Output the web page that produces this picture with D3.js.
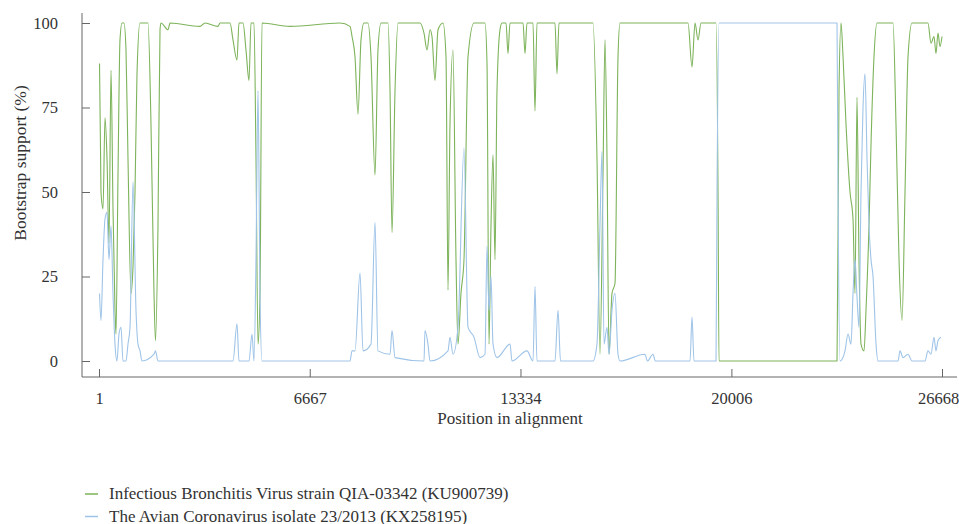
<!DOCTYPE html>
<html>
<head>
<meta charset="utf-8">
<script src="https://cdn.jsdelivr.net/npm/d3@7"></script>
</head>
<body style="margin:0;background:#fff">
<div id="chart"></div>
<script>
// Bootscan values (position in alignment, bootstrap %)
const ibvPos = [17, 64, 128, 191, 254, 317, 381, 444, 507, 539, 602, 665, 729, 792, 855, 918, 1013, 1077, 1140, 1203, 1298, 1551, 1646, 1741, 1788, 1867, 1931, 1962, 2184, 2247, 3196, 3354, 3765, 3829, 4145, 4240, 4366, 4430, 4556, 4651, 4746, 4809, 4904, 4967, 5031, 5094, 5157, 6043, 7625, 7941, 8005, 8099, 8194, 8289, 8384, 8510, 8605, 8732, 8826, 8922, 9144, 9207, 9270, 9365, 9460, 10155, 10282, 10377, 10472, 10535, 10630, 10725, 10883, 10978, 11041, 11104, 11199, 11294, 11357, 11452, 11547, 11674, 11864, 12211, 12275, 12338, 12401, 12465, 12528, 12591, 12686, 12750, 12876, 12939, 13002, 13414, 13477, 13540, 13730, 13793, 13856, 14425, 14489, 14552, 15533, 15628, 15754, 15849, 15944, 16007, 16071, 16134, 16229, 16324, 16419, 16482, 18633, 18760, 18855, 18950, 19045, 19519, 19583, 19614, 23347, 23410, 23474, 23537, 23632, 23758, 23853, 23916, 23979, 24042, 24106, 24201, 24264, 24359, 24422, 24517, 24612, 25119, 25213, 25308, 25403, 25498, 25593, 25719, 26225, 26320, 26415, 26478, 26541, 26605, 26668];
const ibvVal = [88, 50, 45, 72, 60, 35, 86, 45, 15, 8, 55, 95, 100, 100, 92, 60, 20, 28, 50, 85, 100, 100, 70, 20, 6, 40, 98, 100, 98, 100, 99, 100, 99, 100, 100, 95, 89, 100, 100, 92, 83, 100, 100, 60, 5, 20, 100, 99, 100, 99, 96, 90, 73, 95, 100, 100, 90, 55, 92, 100, 100, 80, 38, 80, 100, 100, 97, 92, 98, 96, 83, 98, 100, 90, 21, 70, 92, 30, 5, 20, 30, 90, 100, 100, 88, 5, 40, 61, 30, 80, 98, 100, 100, 91, 100, 100, 91, 100, 100, 74, 100, 100, 85, 100, 100, 100, 60, 2, 55, 95, 60, 2, 20, 23, 90, 100, 100, 87, 100, 95, 100, 100, 50, 0, 0, 80, 100, 90, 70, 50, 42, 20, 78, 30, 5, 3, 15, 40, 64, 90, 100, 100, 70, 30, 12, 50, 90, 100, 100, 94, 96, 91, 97, 93, 96];

const acovPos = [17, 64, 128, 191, 254, 317, 381, 444, 507, 570, 634, 697, 760, 855, 918, 982, 1077, 1171, 1235, 1298, 1361, 1741, 1788, 1867, 4240, 4366, 4430, 4746, 4841, 4904, 4967, 5031, 5094, 5157, 7941, 8005, 8099, 8258, 8352, 8605, 8732, 8826, 9207, 9270, 9365, 10282, 10313, 10408, 10472, 11041, 11104, 11199, 11357, 11547, 11674, 11864, 12053, 12211, 12275, 12338, 12401, 12465, 12591, 13002, 13065, 13540, 13730, 13793, 13856, 14425, 14521, 14600, 15628, 15754, 15849, 15912, 15976, 16071, 16134, 16229, 16324, 16419, 16482, 17273, 17350, 17526, 17600, 18697, 18760, 18823, 19519, 19551, 19614, 23347, 23379, 23442, 23600, 23695, 23790, 23853, 23916, 23979, 24042, 24106, 24169, 24232, 24296, 24359, 24422, 24486, 24581, 24644, 25277, 25340, 25435, 25593, 25719, 26130, 26225, 26320, 26415, 26478, 26541, 26636];
const acovVal = [20, 12, 30, 42, 44, 30, 40, 20, 5, 0, 8, 10, 0, 0, 5, 10, 53, 15, 5, 3, 0, 2, 3, 0, 0, 11, 0, 0, 8, 0, 30, 80, 20, 0, 0, 3, 3, 26, 3, 5, 41, 3, 2, 9, 1, 0, 9, 5, 0, 3, 7, 2, 10, 63, 10, 7, 1, 2, 34, 15, 25, 5, 1, 5, 0, 3, 0, 22, 0, 0, 15, 0, 0, 5, 40, 62, 5, 10, 2, 15, 20, 2, 0, 2, 0, 2, 0, 0, 13, 0, 0, 50, 100, 100, 50, 0, 3, 8, 5, 20, 30, 19, 10, 50, 75, 85, 60, 40, 30, 25, 5, 0, 0, 3, 1, 2, 0, 0, 3, 2, 7, 3, 6, 7];

const xTicks = [1, 6667, 13334, 20006, 26668];
const yTicks = [0, 25, 50, 75, 100];

const series = [
  { name: "Infectious Bronchitis Virus strain QIA-03342 (KU900739)", pos: ibvPos, val: ibvVal, color: "#7db35a" },
  { name: "The Avian Coronavirus isolate 23/2013 (KX258195)", pos: acovPos, val: acovVal, color: "#9fc4e8" },
];

const serif = "\"Liberation Serif\"";
const width = 959, height = 524;
const svg = d3.select("#chart").append("svg")
  .attr("width", width).attr("height", height);

const x = d3.scaleLinear().domain([1, 26668]).range([99, 942]);
const y = d3.scaleLinear().domain([0, 100]).range([361, 23]);

const axisColor = "#666";

// frame lines
svg.append("line").attr("x1", 82).attr("x2", 82).attr("y1", 13).attr("y2", 377)
  .attr("stroke", axisColor);
svg.append("line").attr("x1", 82).attr("x2", 957).attr("y1", 377).attr("y2", 377)
  .attr("stroke", axisColor);

const gy = svg.append("g").attr("transform", "translate(82,0)")
  .call(d3.axisLeft(y).tickValues(yTicks).tickSize(-8).tickPadding(24));
const gx = svg.append("g").attr("transform", "translate(0,377)")
  .call(d3.axisBottom(x).tickValues(xTicks).tickFormat(d3.format("d")).tickSize(-8).tickPadding(15));

[gx, gy].forEach((g) => {
  g.select(".domain").remove();
  g.selectAll("line").attr("stroke", axisColor);
  g.selectAll("text").style("font-size", "16.5px");
});
// last x label sits against the right edge in the original
gx.selectAll("text").filter((d) => d === 26668).attr("dx", -4);

svg.append("text").attr("x", 510).attr("y", 424).attr("text-anchor", "middle")
  .style("font-size", "17px").text("Position in alignment");
svg.append("text").attr("transform", "translate(26,163) rotate(-90)")
  .attr("text-anchor", "middle").style("font-size", "17.5px").text("Bootstrap support (%)");

const line = d3.line().curve(d3.curveMonotoneX).x((d) => x(d[0])).y((d) => y(d[1]));

svg.selectAll("path.series")
  .data(series)
  .join("path")
  .attr("class", "series")
  .attr("fill", "none")
  .attr("stroke", (d) => d.color)
  .attr("stroke-width", 1.1)
  .attr("stroke-linejoin", "round")
  .attr("d", (d) => line(d.pos.map((p, i) => [p, d.val[i]])));

// legend
const legend = svg.append("g");
series.forEach((s, i) => {
  const ly = 494 + i * 22.5;
  legend.append("line").attr("x1", 85).attr("x2", 98).attr("y1", ly).attr("y2", ly)
    .attr("stroke", s.color).attr("stroke-width", 1.5);
  legend.append("text").attr("x", 109).attr("y", ly + 5)
    .style("font-size", "17px").text(s.name);
});

svg.selectAll("text").style("font-family", serif).style("fill", "#333");
</script>
</body>
</html>
